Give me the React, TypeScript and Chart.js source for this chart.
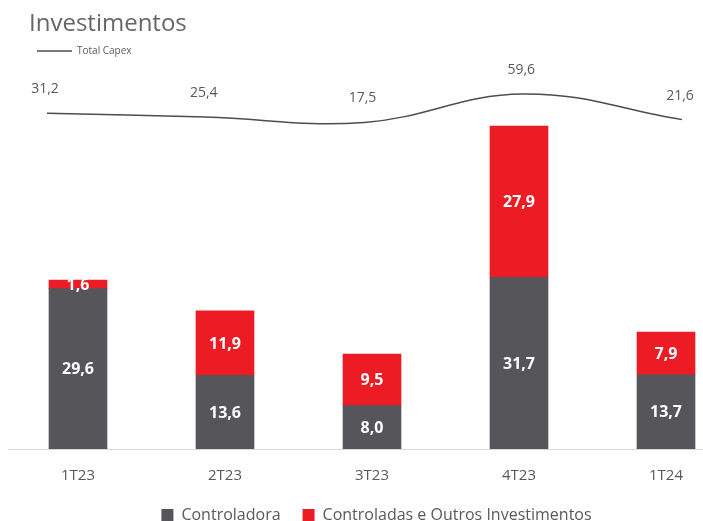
import React, { useEffect, useRef } from 'react';
import { Chart, registerables } from 'chart.js';

Chart.register(...registerables);

const categories = ['1T23', '2T23', '3T23', '4T23', '1T24'];
const controladora = [29.6, 13.6, 8.0, 31.7, 13.7];
const controladas = [1.6, 11.9, 9.5, 27.9, 7.9];
const totalCapex = [31.2, 25.4, 17.5, 59.6, 21.6];

const GREY = '#55555a';
const RED = '#ed1c24';
const TEXT = '#595959';
const FONT = "'Open Sans', sans-serif";

const fmt = (v: number) => v.toFixed(1).replace('.', ',');

const decor = {
  id: 'decor',
  afterDatasetsDraw(chart: any) {
    const ctx = chart.ctx;
    ctx.save();
    ctx.textAlign = 'center';
    ctx.textBaseline = 'middle';
    [0, 1].forEach((di) => {
      const meta = chart.getDatasetMeta(di);
      const ds = chart.data.datasets[di];
      meta.data.forEach((el: any, i: number) => {
        const { x, y, base } = el.getProps(['x', 'y', 'base'], true);
        ctx.fillStyle = '#ffffff';
        ctx.font = `bold 16px ${FONT}`;
        ctx.fillText(fmt(ds.data[i].y), x, (y + base) / 2 + 1);
      });
    });
    const lm = chart.getDatasetMeta(2);
    lm.data.forEach((pt: any, i: number) => {
      ctx.fillStyle = TEXT;
      ctx.font = `14px ${FONT}`;
      ctx.fillText(fmt(totalCapex[i]), pt.x - 2, pt.y - 24);
    });
    ctx.restore();
  },
  afterDraw(chart: any) {
    const ctx = chart.ctx;
    ctx.save();
    ctx.fillStyle = '#666666';
    ctx.font = `24px ${FONT}`;
    ctx.textAlign = 'left';
    ctx.textBaseline = 'alphabetic';
    ctx.fillText('Investimentos', 29, 31);
    ctx.strokeStyle = '#4d4d4d';
    ctx.lineWidth = 1.5;
    ctx.beginPath();
    ctx.moveTo(37, 51);
    ctx.lineTo(72, 51);
    ctx.stroke();
    ctx.fillStyle = TEXT;
    ctx.font = `10px ${FONT}`;
    ctx.textBaseline = 'middle';
    ctx.fillText('Total Capex', 77, 51);
    ctx.restore();
  },
};

export default function App() {
  const ref = useRef<HTMLCanvasElement | null>(null);

  useEffect(() => {
    if (!ref.current) return;
    const barCommon = {
      borderWidth: 0,
      grouped: false,
      stack: 'capex',
      barPercentage: 1,
      categoryPercentage: 1,
      maxBarThickness: 58,
      xAxisID: 'x',
      yAxisID: 'y',
      order: 2,
    };
    const chart = new Chart(ref.current, {
      type: 'bar',
      data: {
        datasets: [
          {
            ...barCommon,
            label: 'Controladora',
            data: controladora.map((v, i) => ({ x: i, y: v })),
            backgroundColor: GREY,
          } as any,
          {
            ...barCommon,
            label: 'Controladas e Outros Investimentos',
            data: controladas.map((v, i) => ({ x: i, y: v })),
            backgroundColor: RED,
          } as any,
          {
            type: 'line',
            label: 'Total Capex',
            data: totalCapex.map((v, i) => ({ x: i, y: v })),
            borderColor: '#4d4d4d',
            borderWidth: 1.5,
            pointRadius: 0,
            tension: 0.4,
            fill: false,
            xAxisID: 'x2',
            yAxisID: 'y2',
            order: 1,
          } as any,
        ],
      },
      options: {
        responsive: false,
        maintainAspectRatio: false,
        animation: false,
        layout: { padding: { top: 60, left: 8, right: -42, bottom: -12 } },
        plugins: {
          tooltip: { enabled: false },
          title: { display: false },
          legend: {
            display: true,
            position: 'bottom',
            labels: {
              filter: (item: any) => item.datasetIndex < 2,
              boxWidth: 12,
              boxHeight: 12,
              padding: 22,
              color: TEXT,
              font: { family: FONT, size: 16 },
            },
          },
        },
        scales: {
          x: {
            type: 'linear',
            stacked: true,
            offset: false,
            min: (8 - 78) / 147,
            max: (703 - 78) / 147,
            grid: { display: false, drawTicks: false, offset: false },
            border: { display: true, color: '#d9d9d9', width: 1 },
            afterBuildTicks: (scale: any) => {
              scale.ticks = categories.map((_, i) => ({ value: i }));
            },
            afterFit: (scale: any) => {
              scale.height = 36;
            },
            ticks: {
              autoSkip: false,
              maxRotation: 0,
              padding: 18,
              color: TEXT,
              font: { family: FONT, size: 15 },
              callback: (v: any) => categories[Math.round(v)] ?? '',
            },
          },
          x2: {
            type: 'linear',
            display: false,
            offset: false,
            min: (8 - 47) / 158.75,
            max: (703 - 47) / 158.75,
          },
          y: {
            display: false,
            stacked: true,
            min: 0,
            max: 71.8,
          },
          y2: {
            display: false,
            position: 'right',
            min: -465.7,
            max: 109.8,
          },
        },
      } as any,
      plugins: [decor],
    });
    return () => chart.destroy();
  }, []);

  return (
    <div style={{ position: 'fixed', left: 0, top: 0, width: 703, height: 521, background: '#fff' }}>
      <canvas ref={ref} width={703} height={521} style={{ display: 'block', width: 703, height: 521 }} />
    </div>
  );
}
